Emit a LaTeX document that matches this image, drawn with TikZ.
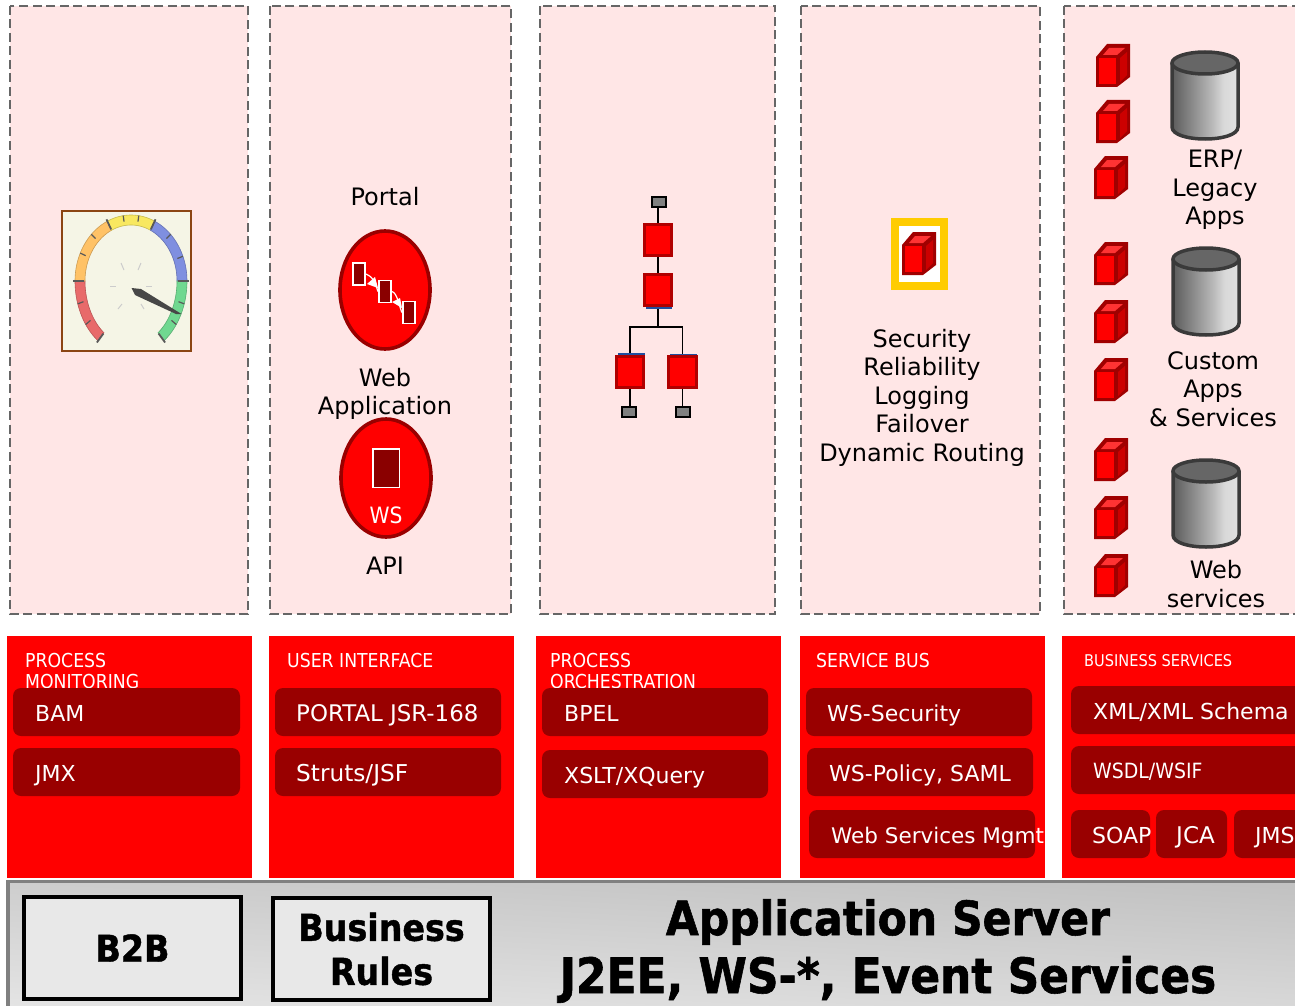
\documentclass[tikz,border=0pt]{standalone}
\usepackage{fontspec}
\setmainfont{DejaVu Sans}
\newfontfamily\condfont{DejaVu Sans Condensed}
\newfontfamily\heavyfont{DejaVu Sans Condensed Bold}[FakeBold=1.2]
\usetikzlibrary{arrows.meta,shadings}
\definecolor{panelpink}{HTML}{FFE6E6}
\definecolor{dashgrey}{HTML}{666666}
\definecolor{pilldark}{HTML}{990000}
\definecolor{cubedark}{HTML}{A00000}
\definecolor{cubetop}{HTML}{FF3333}
\definecolor{cubeside}{HTML}{CC0000}
\definecolor{cylline}{HTML}{3A3A3A}
\definecolor{flowblue}{HTML}{1F4FA0}
\definecolor{flowborder}{HTML}{B00000}
\definecolor{boxgrey}{HTML}{E8E8E8}
\definecolor{gaugebg}{HTML}{F5F5E6}
\definecolor{gaugeframe}{HTML}{8B4513}
\definecolor{gred}{HTML}{E86A6A}
\definecolor{gorange}{HTML}{FFC266}
\definecolor{gyellow}{HTML}{F8E860}
\definecolor{gblue}{HTML}{7F8FE0}
\definecolor{ggreen}{HTML}{70D890}
\definecolor{goldframe}{HTML}{FFCC00}
\pgfdeclarehorizontalshading{cylshade}{100bp}{color(0bp)=(black!64); color(25bp)=(black!64); color(55bp)=(black!28); color(64bp)=(black!15); color(75bp)=(black!12); color(100bp)=(black!12)}
\newcommand{\lbl}{\fontsize{24}{28.6}\selectfont}
\newcommand{\pilltxt}{\fontsize{22}{28}\selectfont}
\newcommand{\headtxt}{\condfont\fontsize{19.2}{21.5}\selectfont}
\tikzset{
  x=1pt,y=-1pt,
  panel/.style={draw=dashgrey,fill=panelpink,line width=2.4pt,dash pattern=on 9pt off 4.5pt},
  redblock/.style={fill=red},
  pillshape/.style={fill=pilldark,rounded corners=8pt},
  pilltext/.style={anchor=base west,inner sep=0pt,text=white,font=\pilltxt},
  headtext/.style={anchor=north west,inner sep=0pt,text=white,align=left,font=\headtxt},
  labeltext/.style={inner sep=0pt,align=center,text=black,font=\lbl},
  redoval/.style={draw=pilldark,fill=red,line width=3.6pt},
  minirect/.style={draw=white,fill=pilldark!90!black,line width=1.8pt,inner sep=0pt},
  flowred/.style={draw=flowborder,fill=red,line width=2.8pt,inner sep=0pt,minimum width=27.5pt,minimum height=31.5pt},
  flowgrey/.style={draw=black,fill=gray,line width=2pt,inner sep=0pt,minimum width=14pt,minimum height=10pt},
  flowline/.style={draw=black,line width=1.8pt},
  blueline/.style={draw=flowblue,line width=1.5pt},
  blackbox/.style={draw=black,fill=boxgrey,line width=3.5pt,inner sep=0pt,minimum width=217pt,minimum height=102pt,align=center,font=\heavyfont\fontsize{37}{44}\selectfont},
  bigtext/.style={inner sep=0pt,align=center,text=black,font=\heavyfont\fontsize{48}{58}\selectfont},
  gaugetick/.style={draw=black!65,line width=1.2pt},
  faint/.style={draw=black!20,line width=1pt},
}
\newcommand{\cube}[2]{%
  \begin{scope}[shift={(#1,#2)},line join=miter]
    \fill[cubedark] (0,13)--(11,0)--(34,0)--(34,33)--(21,43)--(0,43)--cycle;
    \fill[cubetop] (7,11)--(13,4)--(29,4)--(21,11)--cycle;
    \fill[red] (3,14)--(20,14)--(20,40)--(3,40)--cycle;
    \fill[cubeside] (24,14)--(31,8)--(31,31)--(24,38)--cycle;
  \end{scope}}
\newcommand{\cyl}[2]{%
  \begin{scope}[shift={(#1,#2)}]
    \path[shading=cylshade]
      (0,12)--(0,76) .. controls (0,92) and (66,92) .. (66,76) -- (66,12) -- cycle;
    \draw[cylline,line width=3.5pt] (0,12)--(0,76) .. controls (0,92) and (66,92) .. (66,76) -- (66,12);
    \draw[cylline,line width=3.5pt,fill=black!60] (33,12) ellipse [x radius=33,y radius=11];
  \end{scope}}
\newcommand{\pill}[7]{%
  \fill[pillshape] (#2,#3) rectangle (#4,#5);
  \node[pilltext] (#1) at (#6,{(#3+#5)/2+9.2}) {#7};}
\newcommand{\band}[3]{%
  \fill[#3,draw=#3!80!black,line width=.6pt] plot[domain=#1:#2,samples=24] ({131+56*cos(\x)},{281-(sin(\x)>0?66:74)*sin(\x)})
    -- plot[domain=#2:#1,samples=24] ({131+46*cos(\x)},{281-(sin(\x)>0?56:64)*sin(\x)}) -- cycle;}
\newcommand{\gtick}[1]{%
  \draw[gaugetick,line width=1.8pt] ({131+58*cos(#1)},{281-(sin(#1)>0?68:76)*sin(#1)}) -- ({131+47*cos(#1)},{281-(sin(#1)>0?57:65)*sin(#1)});}
\newcommand{\stick}[1]{%
  \draw[gaugetick] ({131+56*cos(#1)},{281-(sin(#1)>0?66:74)*sin(#1)}) -- ({131+50*cos(#1)},{281-(sin(#1)>0?60:67)*sin(#1)});}
\begin{document}
\begin{tikzpicture}
\useasboundingbox (0,0) rectangle (1295,1006);
\clip (0,0) rectangle (1295,1006);
\fill[white] (0,0) rectangle (1295,1006);
% panels
\draw[panel] (10,6) rectangle (248,614);
\draw[panel] (270,6) rectangle (511,614);
\draw[panel] (540,6) rectangle (775,614);
\draw[panel] (801,6) rectangle (1040,614);
\draw[panel] (1064,6) rectangle (1310,614);
% gauge
\draw[draw=gaugeframe,fill=gaugebg,line width=2pt] (62,211) rectangle (191,351);
\band{180}{234}{gred}
\band{115}{180}{gorange}
\band{65}{115}{gyellow}
\band{0}{65}{gblue}
\band{-54}{0}{ggreen}
\foreach \a in {234,180,115,65,0,-54}{\gtick{\a}}
\foreach \a in {198,216,135,155,98,82,45,22,-18,-36}{\stick{\a}}
\draw[faint] (121,263)--(124,270);
\draw[faint] (141,263)--(138,270);
\draw[faint] (110,286)--(116,286);
\draw[faint] (146,286)--(152,286);
\draw[faint] (118,309)--(122,304);
\draw[faint] (144,309)--(141,304);
\fill[black!72] (131.5,288) -- (141,289) -- (181.5,314) -- (176,314) -- (135,295) -- cycle;
% web application
\node[labeltext] (portal) at (385,197) {Portal};
\draw[redoval] (385,290) ellipse [x radius=45,y radius=59];
\node[minirect,minimum width=12.5pt,minimum height=22pt] (wa1) at (359,274) {};
\node[minirect,minimum width=12.5pt,minimum height=22pt] (wa2) at (385,291.5) {};
\node[minirect,minimum width=12.5pt,minimum height=22pt] (wa3) at (409,312.5) {};
\draw[white,line width=1.2pt] (wa1.east) .. controls +(6,2) and +(-2,-8) .. (wa2.west);
\fill[white] (367,284) -- (375,277) -- (378,288) -- cycle;
\draw[white,line width=1.2pt] (wa2.east) .. controls +(5,2) and +(-3,-8) .. (wa3.west);
\fill[white] (392,302) -- (400,298) -- (402,308) -- cycle;
\node[labeltext] (webapp) at (385,394) {Web\\Application};
\draw[redoval] (386,478) ellipse [x radius=45,y radius=59];
\node[minirect,line width=1.5pt,minimum width=26.5pt,minimum height=38.5pt] (wsdoc) at (386,468) {};
\node[inner sep=0pt,text=white,font=\condfont\fontsize{22.5}{28}\selectfont] (wslabel) at (386,515) {WS};
\node[labeltext] (api) at (385,566) {API};
% flow
\node[flowgrey] (fa) at (659,202) {};
\node[flowred] (fb) at (658,240) {};
\node[flowred] (fc) at (658,290) {};
\node[flowred] (fd) at (630,372) {};
\node[flowred] (fe) at (682.5,372) {};
\node[flowgrey] (ff) at (629,412) {};
\node[flowgrey] (fg) at (683,412) {};
\coordinate (bar) at (658,327);
\draw[flowline] (fa.south -| fb.north) -- (fb.north);
\draw[flowline] (fb) -- (fc);
\draw[flowline] (fc) -- (bar);
\draw[flowline] (fd.north) -- (fd.north |- bar) -- (fe.north |- bar) -- (fe.north);
\draw[flowline] (fd.south) -- (fd.south |- ff.north);
\draw[flowline] (fe.south) -- (fe.south |- fg.north);
\draw[blueline] (646,308) -- (672,308);
\draw[blueline] (618,354) -- (645,354);
\draw[blueline,line width=1pt] (670,354) -- (697,354);
% bus panel
\fill[goldframe] (891,218) rectangle (948,290);
\fill[white] (899,226) rectangle (940,282);
\cube{902}{232}
\node[labeltext] (bus) at (922,397.7) {Security\\Reliability\\Logging\\Failover\\Dynamic Routing};
% business services panel
\cube{1096}{44}\cube{1096}{100}\cube{1094}{156}
\cube{1094}{242}\cube{1094}{300}\cube{1094}{358}
\cube{1094}{438}\cube{1094}{496}\cube{1094}{554}
\cyl{1172}{51}\cyl{1173}{247}\cyl{1173}{459}
\node[labeltext] (erp) at (1215,190) {ERP/\\Legacy\\Apps};
\node[labeltext] (custom) at (1213,389) {Custom\\Apps\\\& Services};
\node[labeltext] (websvc) at (1216,584) {Web\\services};
% red blocks
\fill[redblock] (7,636) rectangle (252,878);
\fill[redblock] (269,636) rectangle (514,878);
\fill[redblock] (536,636) rectangle (781,878);
\fill[redblock] (800,636) rectangle (1045,878);
\fill[redblock] (1062,636) rectangle (1310,878);
\node[headtext] (h1) at (25,653) {PROCESS\\MONITORING};
\node[headtext] (h2) at (287,653) {USER INTERFACE};
\node[headtext] (h3) at (550,653) {PROCESS\\ORCHESTRATION};
\node[headtext] (h4) at (816,653) {SERVICE BUS};
\node[headtext,font=\condfont\fontsize{16.2}{20}\selectfont] (h5) at (1084,654) {BUSINESS SERVICES};
\pill{p1}{13}{688}{240}{736}{35}{BAM}
\pill{p2}{13}{748}{240}{796}{35}{JMX}
\pill{p3}{275}{688}{501}{736}{296}{\fontsize{22.9}{28}\selectfont PORTAL JSR-168}
\pill{p4}{275}{748}{501}{796}{296}{\fontsize{23.2}{28}\selectfont Struts/JSF}
\pill{p5}{542}{688}{768}{736}{564}{BPEL}
\pill{p6}{542}{750}{768}{798}{564}{XSLT/XQuery}
\pill{p7}{806}{688}{1032}{736}{827}{WS-Security}
\pill{p8}{807}{748}{1033}{796}{829}{WS-Policy, SAML}
\pill{p9}{809}{810}{1035}{858}{831}{\fontsize{21.5}{28}\selectfont Web Services Mgmt}
\pill{p10}{1071}{686}{1320}{734}{1093}{XML/XML Schema}
\pill{p11}{1071}{746}{1320}{794}{1093}{\condfont\fontsize{21}{28}\selectfont\raisebox{1pt}{WSDL/WSIF}}
\pill{p12}{1071}{810}{1150}{858}{1092}{SOAP}
\pill{p13}{1156}{810}{1227}{858}{1176}{\fontsize{23}{28}\selectfont JCA}
\pill{p14}{1234}{810}{1320}{858}{1255}{JMS}
% app server
\path[top color=black!24,bottom color=black!10,shading angle=-3] (8,881) rectangle (1310,1020);
\draw[draw=gray,line width=3.2pt] (8,1020) -- (8,881.5) -- (1310,881.5);
\node[blackbox] (b2b) at (132.5,948) {B2B};
\node[blackbox] (rules) at (381.5,949) {Business\\Rules};
\node[bigtext] (server) at (888,951) {\fontsize{47.3}{58}\selectfont Application Server\\\fontsize{48.8}{58}\selectfont J2EE, WS-*, Event Services};
\end{tikzpicture}
\end{document}
